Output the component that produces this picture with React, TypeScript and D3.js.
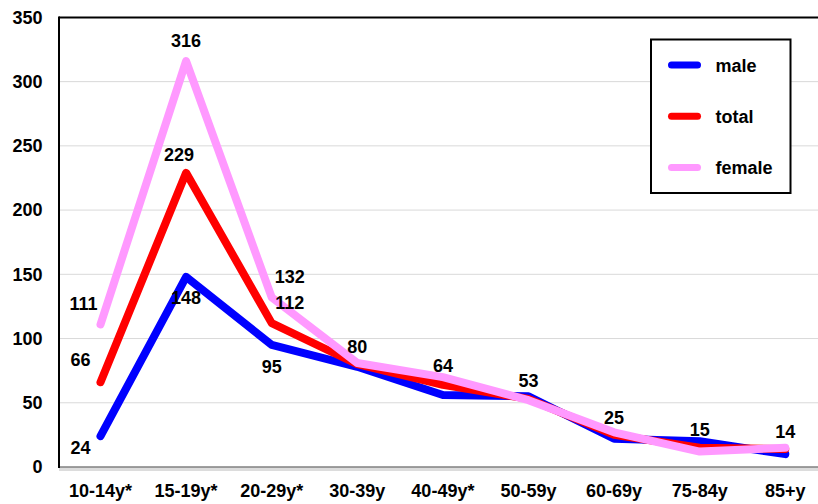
import React from "react";
import * as d3 from "d3";

const categories = ["10-14y*", "15-19y*", "20-29y*", "30-39y", "40-49y*", "50-59y", "60-69y", "75-84y", "85+y"];
const male = [24, 148, 95, 78, 56, 55, 22, 20, 10];
const total = [66, 229, 112, 80, 64, 53, 25, 15, 14];
const female = [111, 316, 132, 81, 70, 52, 27, 12, 15];
const yTicks = [0, 50, 100, 150, 200, 250, 300, 350];

const seriesList = [
  { name: "male", values: male, color: "#0000ff" },
  { name: "total", values: total, color: "#ff0000" },
  { name: "female", values: female, color: "#ff99ff" },
];

// label placement (style only): which labels are shown and their offsets
const labelPlacements = [
  { series: "female", i: 0, dx: -17, dy: -21 },
  { series: "total", i: 0, dx: -20, dy: -23 },
  { series: "male", i: 0, dx: -20, dy: 11 },
  { series: "female", i: 1, dx: 0, dy: -20 },
  { series: "total", i: 1, dx: -7, dy: -18 },
  { series: "male", i: 1, dx: 0, dy: 21 },
  { series: "female", i: 2, dx: 18, dy: -21 },
  { series: "total", i: 2, dx: 18, dy: -21 },
  { series: "male", i: 2, dx: 0, dy: 22 },
  { series: "total", i: 3, dx: 0, dy: -18 },
  { series: "total", i: 4, dx: 0, dy: -19 },
  { series: "total", i: 5, dx: 0, dy: -18 },
  { series: "total", i: 6, dx: 0, dy: -17 },
  { series: "total", i: 7, dx: 0, dy: -18 },
  { series: "total", i: 8, dx: 0, dy: -17 },
];

const W = 818;
const H = 504;
const FONT = "'Liberation Sans', Arial, sans-serif";

export default function App() {
  const x = d3.scalePoint<string>().domain(categories).range([100.5, 785.3]);
  const y = d3.scaleLinear().domain([0, 350]).range([467, 17.4]);
  const plotLeft = 59;

  const line = d3
    .line<number>()
    .x((_, i) => x(categories[i]) as number)
    .y((d) => y(d));

  const byName: Record<string, number[]> = { male, total, female };

  return (
    <svg
      width={W}
      height={H}
      style={{ position: "absolute", left: 0, top: 0, background: "#fff" }}
      fontFamily={FONT}
      fontWeight="bold"
    >
      <rect x={0} y={0} width={W} height={H} fill="#fff" />
      {/* gridlines */}
      {yTicks.slice(1, -1).map((t) => (
        <line key={t} x1={plotLeft} x2={W} y1={y(t)} y2={y(t)} stroke="#d9d9d9" strokeWidth={1} />
      ))}
      {/* top border */}
      <line x1={plotLeft} x2={W} y1={y(350)} y2={y(350)} stroke="#000" strokeWidth={2} />
      {/* bottom floor */}
      <rect x={plotLeft} y={y(0)} width={W - plotLeft} height={4} fill="#dcdcdc" />
      <line x1={plotLeft} x2={W} y1={y(0)} y2={y(0)} stroke="#808080" strokeWidth={1.5} />
      {/* left axis */}
      <line x1={plotLeft} x2={plotLeft} y1={y(350) - 1} y2={y(0) + 1} stroke="#000" strokeWidth={2} />

      {/* y tick labels */}
      {yTicks.map((t) => (
        <text key={t} x={42.5} y={y(t) + 6.3} textAnchor="end" fontSize={18} fill="#000">
          {t}
        </text>
      ))}
      {/* x labels */}
      {categories.map((c) => (
        <text key={c} x={x(c) as number} y={496.5} textAnchor="middle" fontSize={18} fill="#000">
          {c}
        </text>
      ))}

      {/* lines */}
      {seriesList.map((s) => (
        <path
          key={s.name}
          d={line(s.values) || ""}
          fill="none"
          stroke={s.color}
          strokeWidth={8}
          strokeLinecap="round"
          strokeLinejoin="round"
        />
      ))}

      {/* data labels */}
      {labelPlacements.map((p, k) => {
        const v = byName[p.series][p.i];
        return (
          <text
            key={k}
            x={(x(categories[p.i]) as number) + p.dx}
            y={y(v) + p.dy + 6.4}
            textAnchor="middle"
            fontSize={18}
            fill="#000"
          >
            {v}
          </text>
        );
      })}

      {/* legend */}
      <rect x={651} y={39.5} width={139.5} height={153.5} fill="#fff" stroke="#000" strokeWidth={2} />
      {seriesList.map((s, i) => {
        const ly = 65 + i * 51.2;
        return (
          <g key={s.name}>
            <line x1={671.5} x2={697.5} y1={ly} y2={ly} stroke={s.color} strokeWidth={7} strokeLinecap="round" />
            <text x={715.5} y={ly + 6.5} fontSize={18} fill="#000">
              {s.name}
            </text>
          </g>
        );
      })}
    </svg>
  );
}
